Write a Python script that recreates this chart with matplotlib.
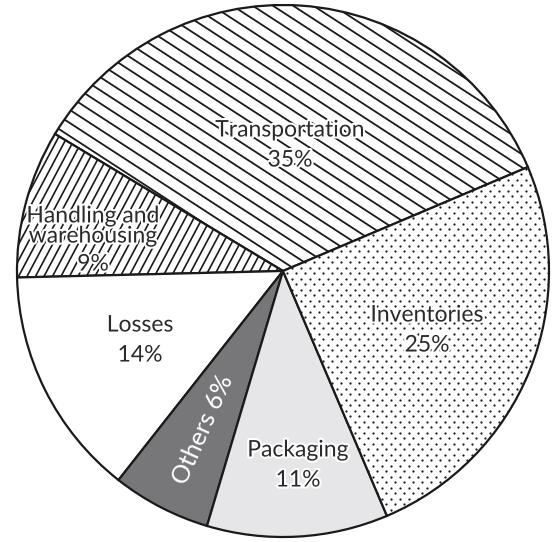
import numpy as np
import matplotlib.pyplot as plt
import matplotlib.patheffects as pe
from matplotlib.collections import LineCollection

plt.rcParams['font.family'] = ['Lato', 'DejaVu Sans']

labels = ['Transportation', 'Handling and\nwarehousing', 'Losses', 'Others',
          'Packaging', 'Inventories']
shares = [35, 9, 14, 6, 11, 25]
fills = ['white', 'white', 'white', '#77777a', '#e6e6e8', 'white']

W, H = 555, 542
fig = plt.figure(figsize=(W / 100, H / 100), dpi=100)
ax = fig.add_axes([0, 0, 1, 1])

cx, cy, r = 283, 271, 266
wedges, _ = ax.pie(shares, colors=fills, startangle=23, counterclock=True,
                   center=(cx, cy), radius=r, frame=True,
                   wedgeprops=dict(edgecolor='#1a1a1a', linewidth=1.6))
ax.set_xlim(0, W)
ax.set_ylim(0, H)
ax.set_aspect('equal')
ax.axis('off')


def line_hatch(wedge, angle, gap, lw=1.3):
    # parallel lines clipped to the wedge
    a = np.deg2rad(angle)
    d = np.array([np.cos(a), np.sin(a)])
    n = np.array([-d[1], d[0]])
    segs = []
    for k in np.arange(-r * 1.5, r * 1.5, gap):
        p = np.array([cx, cy]) + n * k
        segs.append([p - d * 2 * r, p + d * 2 * r])
    lc = LineCollection(segs, colors='#1a1a1a', linewidths=lw, zorder=1.5)
    ax.add_collection(lc)
    lc.set_clip_path(wedge)


def dot_hatch(wedge, dx=9.0, dy=5.5):
    xs, ys = [], []
    for i, y in enumerate(np.arange(cy - r, cy + r, dy)):
        off = (i % 2) * dx / 2
        for x in np.arange(cx - r + off, cx + r, dx):
            xs.append(x)
            ys.append(y)
    sc = ax.scatter(xs, ys, s=2.6, c='#1a1a1a', linewidths=0, zorder=1.5)
    sc.set_clip_path(wedge)


line_hatch(wedges[0], -33, 11)
line_hatch(wedges[1], 62, 7.5, lw=1.2)
dot_hatch(wedges[5])

halo = [pe.withStroke(linewidth=3, foreground='white')]
fs = 16.5
txt = dict(ha='center', va='center', fontsize=fs, color='#2a2a2a',
           linespacing=0.95, path_effects=halo, zorder=3)
ax.text(290, H - 130, 'Transportation', **txt)
ax.text(290, H - 160, '35%', **txt)
ax.text(93, H - 226, 'Handling and\nwarehousing', **txt)
ax.text(93, H - 264, '9%', **txt)
ax.text(140, H - 325, 'Losses', **txt)
ax.text(140, H - 355, '14%', **txt)
ax.text(298, H - 450, 'Packaging', **txt)
ax.text(298, H - 480, '11%', **txt)
ax.text(427, H - 315, 'Inventories', **txt)
ax.text(427, H - 345, '25%', **txt)
ax.text(203, H - 430, 'Others 6%', ha='center', va='center', fontsize=18,
        color='white', rotation=66, zorder=3)

fig.savefig('out.png', dpi=100)
